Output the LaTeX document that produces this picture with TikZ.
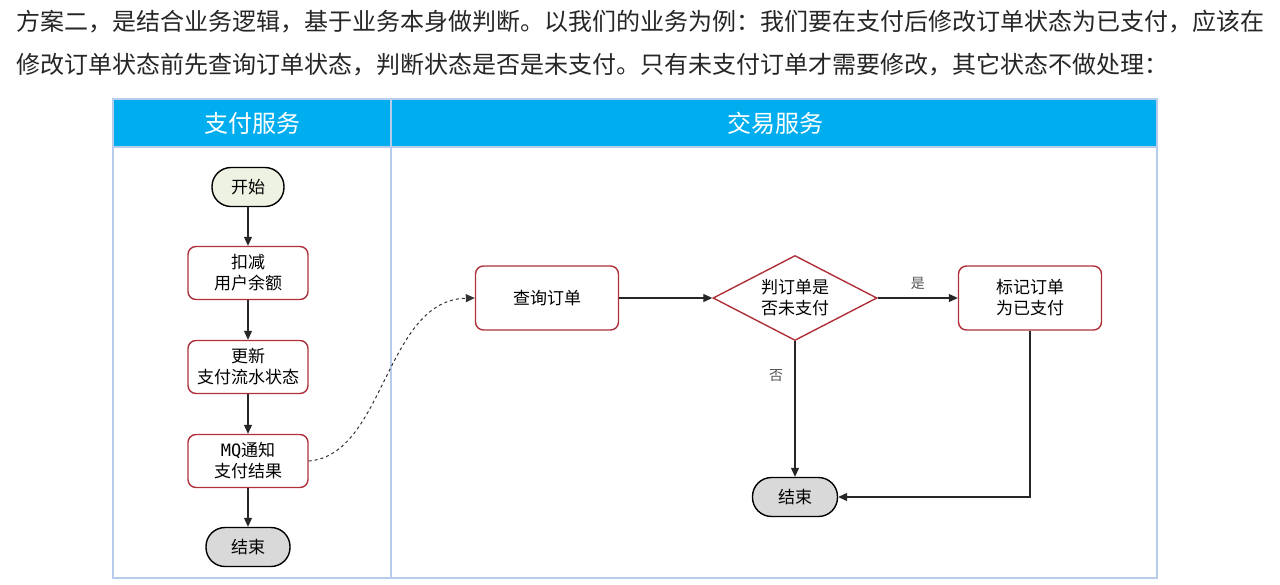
\documentclass[tikz,border=0pt]{standalone}
\usepackage{fontspec}
\setmainfont{Noto Sans CJK SC}
\newfontfamily\monof{DejaVu Sans Mono}
\usetikzlibrary{shapes.geometric,arrows.meta}
\definecolor{hdrblue}{HTML}{00AEEF}
\definecolor{frameblue}{HTML}{B7CCEA}
\definecolor{boxred}{HTML}{B0303A}
\definecolor{startfill}{HTML}{EEF2E2}
\definecolor{endfill}{HTML}{D9D9D9}
\definecolor{lbl}{HTML}{555555}
\tikzset{
  procbox/.style={draw=boxred,line width=1.4pt,rounded corners=8pt,fill=white,
    minimum width=120pt,minimum height=53pt,align=center,font=\fontsize{17}{21}\selectfont},
  bigbox/.style={procbox,minimum width=143pt,minimum height=64pt},
  terminal/.style={draw=black,line width=1.4pt,rounded corners=19pt,
    minimum height=39pt,align=center,font=\fontsize{17}{21}\selectfont},
  decide/.style={draw=boxred,line width=1.4pt,diamond,aspect=1.93,inner sep=0pt,
    minimum width=164pt,minimum height=85pt,align=center,font=\fontsize{17}{21}\selectfont},
  flow/.style={draw=black!85,line width=1.1pt,-{Triangle[length=9pt,width=8pt]}},
  hdr/.style={text=white,font=\fontsize{24}{28}\selectfont},
  para/.style={anchor=west,inner sep=0pt,font=\fontsize{24}{28}\selectfont,text=black!85},
  edgelbl/.style={text=lbl,font=\fontsize{14}{16}\selectfont}
}
\begin{document}
\begin{tikzpicture}[x=1pt,y=-1pt]
\useasboundingbox (0,0) rectangle (1280,584);
\fill[white] (0,0) rectangle (1280,584);
% paragraph
\node[para] (p1) at (16,22) {方案二，是结合业务逻辑，基于业务本身做判断。以我们的业务为例：我们要在支付后修改订单状态为已支付，应该在};
\node[para] (p2) at (16,65) {修改订单状态前先查询订单状态，判断状态是否是未支付。只有未支付订单才需要修改，其它状态不做处理：};
% frame
\fill[hdrblue] (113,99) rectangle (1157,147);
\draw[frameblue,line width=1.5pt] (113,99) rectangle (1157,578);
\draw[frameblue,line width=1.5pt] (113,147) -- (1157,147);
\draw[frameblue,line width=2pt] (391,99) -- (391,578);
\node[hdr] (h1) at (252,123) {支付服务};
\node[hdr] (h2) at (775,123) {交易服务};
% left lane
\node[terminal,fill=startfill,minimum width=72pt] (start) at (248,187) {开始};
\node[procbox] (deduct) at (248,273) {扣减\\用户余额};
\node[procbox] (update) at (248,367) {更新\\支付流水状态};
\node[procbox] (mq) at (248,461) {{\monof MQ}通知\\支付结果};
\node[terminal,fill=endfill,minimum width=84pt] (end1) at (248,547) {结束};
\draw[flow] (start) -- (deduct);
\draw[flow] (deduct) -- (update);
\draw[flow] (update) -- (mq);
\draw[flow] (mq) -- (end1);
% right lane
\node[bigbox] (query) at (547,298) {查询订单};
\node[decide] (judge) at (795,298) {判订单是\\否未支付};
\node[bigbox] (mark) at (1030,298) {标记订单\\为已支付};
\node[terminal,fill=endfill,minimum width=85pt] (end2) at (795,497) {结束};
\draw[flow] (query) -- (judge);
\draw[flow] (judge) -- node[edgelbl,above=4pt,pos=0.5] {是} (mark);
\draw[flow] (judge) -- node[edgelbl,left=8pt,pos=0.25] {否} (end2);
\draw[flow] (mark.south) |- (end2.east);
% dashed message
\draw[black!80,line width=1pt,dashed,-{Triangle[length=9pt,width=8pt]}]
  (mq.east) .. controls (385,455) and (385,300) .. (query.west);
\end{tikzpicture}
\end{document}
